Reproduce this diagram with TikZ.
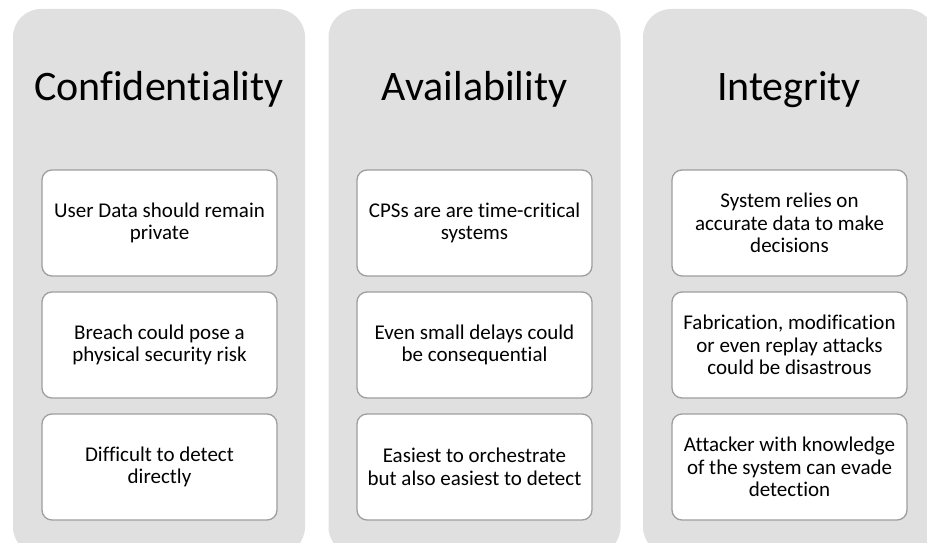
\documentclass[tikz,border=0pt]{standalone}
\usepackage{fontspec}
\setmainfont{Carlito}[Ligatures={NoCommon}]
\definecolor{colfill}{RGB}{224,224,224}
\definecolor{boxline}{RGB}{158,158,158}
\begin{document}
\begin{tikzpicture}[x=1pt,y=-1pt,
  column/.style={fill=colfill, draw=none, rounded corners=28pt, minimum width=292pt, minimum height=546pt, inner sep=0pt, outer sep=0pt},
  title/.style={font=\fontsize{42}{50}\selectfont, anchor=base, inner sep=0pt},
  item/.style={draw=boxline, line width=1.3pt, fill=white, rounded corners=10pt, minimum width=235pt, minimum height=106pt, inner sep=0pt, align=center, font=\fontsize{21}{22.5}\selectfont}]
\useasboundingbox (0,0) rectangle (927,543);
\clip (0,0) rectangle (927,543);
% columns
\node[column] (c1) at (159,282) {};
\node[column] (c2) at (474.5,282) {};
\node[column] (c3) at (789,282) {};
% titles
\node[title] (t1) at (159,101) {Confidentiality};
\node[title] (t2) at (474.5,101) {Availability};
\node[title] (t3) at (789,101) {Integrity};
% column 1
\node[item] (a1) at (159.5,223) {User Data should remain\\private};
\node[item] (a2) at (159.5,345) {Breach could pose a\\physical security risk};
\node[item] (a3) at (159.5,467) {Difficult to detect\\directly};
% column 2
\node[item] (b1) at (474.5,223) {CPSs are are time-critical\\systems};
\node[item] (b2) at (474.5,345) {Even small delays could\\be consequential};
\node[item] (b3) at (474.5,467) {Easiest to orchestrate\\but also easiest to detect};
% column 3
\node[item] (d1) at (789.5,223) {System relies on\\accurate data to make\\decisions};
\node[item] (d2) at (789.5,345) {Fabrication, modification\\or even replay attacks\\could be disastrous};
\node[item] (d3) at (789.5,467) {Attacker with knowledge\\of the system can evade\\detection};
\end{tikzpicture}
\end{document}
